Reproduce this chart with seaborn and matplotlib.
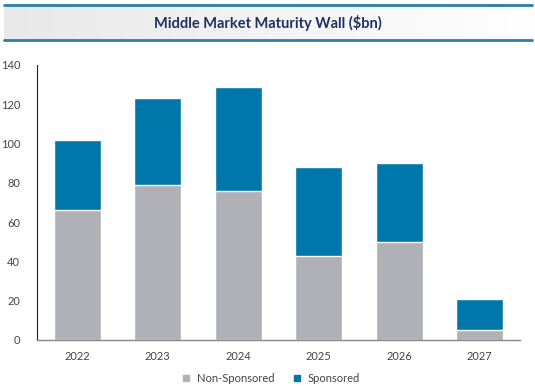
import numpy as np
import pandas as pd
import seaborn as sns
import matplotlib.pyplot as plt
from matplotlib.colors import LinearSegmentedColormap
from matplotlib.lines import Line2D

# --- data ---
years = ["2022", "2023", "2024", "2025", "2026", "2027"]
non_sponsored = [66, 79, 76, 43, 50, 5]
sponsored = [36, 44, 53, 45, 40, 16]

grey = "#B0B1B6"
blue = "#0077AA"
navy = "#1F3264"

df = pd.DataFrame({"year": years, "Non-Sponsored": non_sponsored, "Sponsored": sponsored})
df["total"] = df["Non-Sponsored"] + df["Sponsored"]

sns.set_theme(style="white")
plt.rcParams["font.family"] = ["Lato", "DejaVu Sans"]

fig = plt.figure(figsize=(5.35, 3.89), dpi=100)
ax = fig.add_axes([0.069, 0.126, 0.903, 0.707])

# stacked bars: total first (blue), then non-sponsored over it (grey)
sns.barplot(data=df, x="year", y="total", color=blue, width=0.58, ax=ax, saturation=1)
sns.barplot(data=df, x="year", y="Non-Sponsored", color=grey, width=0.58, ax=ax, saturation=1)

ax.set_ylim(0, 140)
ax.set_yticks(range(0, 141, 20))
ax.set_xlim(-0.5, 5.5)
ax.set_xlabel("")
ax.set_ylabel("")
for s in ["top", "right"]:
    ax.spines[s].set_visible(False)
ax.spines["left"].set_color("#222222")
ax.spines["left"].set_linewidth(0.8)
ax.spines["bottom"].set_color("#888888")
ax.spines["bottom"].set_linewidth(1.0)
ax.tick_params(axis="both", labelsize=8, colors="#444444", length=0, pad=8)
ax.tick_params(axis="y", pad=12)

# legend
handles = [
    Line2D([], [], marker="s", ls="", color=grey, markersize=5),
    Line2D([], [], marker="s", ls="", color=blue, markersize=5),
]
fig.legend(handles, ["Non-Sponsored", "Sponsored"], loc="center",
           bbox_to_anchor=(0.5, 0.028), ncol=2, frameon=False,
           fontsize=8, handletextpad=0.0, columnspacing=1.0,
           labelcolor="#444444")

# title banner with light gradient
bax = fig.add_axes([0.008, 0.897, 0.986, 0.088])
grad = np.linspace(0, 1, 256).reshape(1, -1)
cmap = LinearSegmentedColormap.from_list("banner", ["#E8E8E8", "#F3F3F3", "#FFFFFF"])
bax.imshow(grad, aspect="auto", cmap=cmap, extent=[0, 1, 0, 1])
bax.set_xlim(0, 1)
bax.set_ylim(0, 1)
bax.axis("off")
for yy in [0.986, 0.897]:
    fig.add_artist(Line2D([0.008, 0.994], [yy, yy], transform=fig.transFigure,
                          color="#2A7FA8", lw=2))
fig.text(0.5, 0.941, "Middle Market Maturity Wall ($bn)", ha="center", va="center",
         fontsize=10.5, fontweight="bold", color=navy)

fig.savefig("out.png", dpi=100)
